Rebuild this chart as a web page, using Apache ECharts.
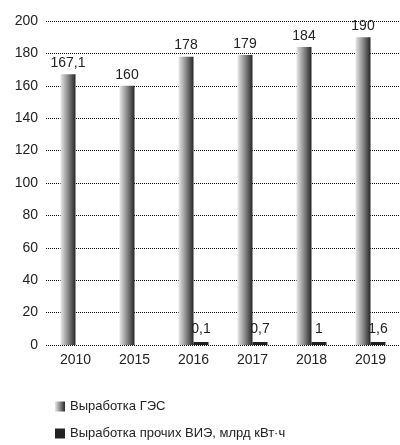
<!DOCTYPE html>
<html><head><meta charset="utf-8">
<script src="https://cdn.jsdelivr.net/npm/echarts@6/dist/echarts.min.js"></script>
<style>html,body{margin:0;padding:0;background:#fff}#c{width:400px;height:445px}</style>
</head><body><div id="c"></div>
<script>
const years = ['2010','2015','2016','2017','2018','2019'];
const hydro = [167.1, 160, 178, 179, 184, 190];
const otherRes = [null, null, 0.1, 0.7, 1, 1.6];
const seriesNames = ['Выработка ГЭС', 'Выработка прочих ВИЭ, млрд кВт·ч'];
const yTicks = {min: 0, max: 200, interval: 20};

const fmt = p => String(p.value).replace('.', ',');
const grad = new echarts.graphic.LinearGradient(0, 0, 1, 0, [
  {offset: 0, color: '#e8e8e8'},
  {offset: 0.5, color: '#8a8a8a'},
  {offset: 1, color: '#262626'}
]);
const font = 'Liberation Sans, Arial, sans-serif';
const legendBase = {
  orient: 'vertical', left: 50, itemWidth: 10, itemHeight: 10,
  textStyle: {color: '#222', fontSize: 13, fontFamily: font}
};
const chart = echarts.init(document.getElementById('c'));
chart.setOption({
  animation: false,
  textStyle: {fontFamily: font},
  grid: {left: 46, top: 21, width: 356, height: 324, containLabel: false},
  xAxis: {
    type: 'category', data: years,
    axisLine: {show: false}, axisTick: {show: false},
    axisLabel: {color: '#222', fontSize: 14, margin: 8, fontFamily: font}
  },
  yAxis: {
    type: 'value', min: yTicks.min, max: yTicks.max, interval: yTicks.interval,
    axisLine: {show: false}, axisTick: {show: false},
    axisLabel: {color: '#222', fontSize: 14, margin: 8, fontFamily: font},
    splitLine: {lineStyle: {color: '#000', type: [1, 1], width: 1}}
  },
  legend: [
    Object.assign({}, legendBase, {top: 395,
      data: [{name: seriesNames[0], icon: 'rect', itemStyle: {color: grad}}]}),
    Object.assign({}, legendBase, {top: 422,
      data: [{name: seriesNames[1], icon: 'rect', itemStyle: {color: '#222'}}]})
  ],
  series: [
    {
      name: seriesNames[0], type: 'bar', data: hydro, barWidth: 15, barGap: 0,
      itemStyle: {color: grad},
      label: {show: true, position: 'top', distance: 4, color: '#222', fontSize: 14, formatter: fmt, fontFamily: font}
    },
    {
      name: seriesNames[1], type: 'bar', data: otherRes, barWidth: 15, barMinHeight: 3,
      itemStyle: {color: '#222'},
      label: {show: true, position: 'top', distance: 6, color: '#222', fontSize: 14, formatter: fmt, fontFamily: font}
    }
  ]
});
</script></body></html>
